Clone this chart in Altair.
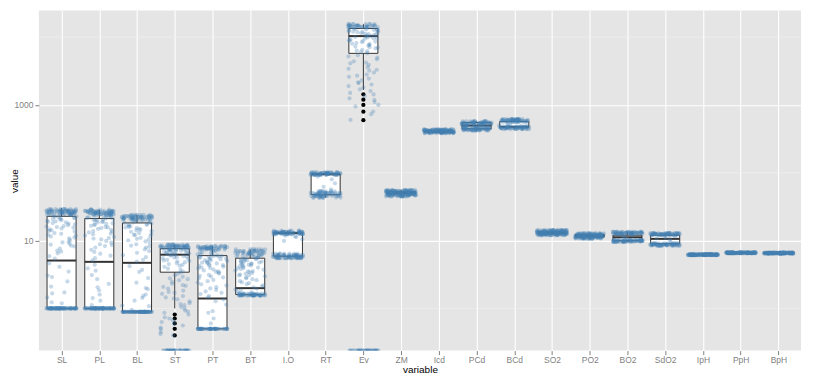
import altair as alt
import pandas as pd

categories = ["SL", "PL", "BL", "ST", "PT", "BT", "I.O", "RT", "Ev", "ZM", "Icd",
              "PCd", "BCd", "SO2", "PO2", "BO2", "SdO2", "IpH", "PpH", "BpH"]

# box statistics
box_q1 = [1.0, 1.0, 0.89, 3.42, 0.50, 1.60, 5.9, 47.5, 5760, 49.0, 400, 445, 470,
          12.6, 11.3, 10.0, 9.0, 6.17, 6.57, 6.52]
box_median = [5.08, 4.86, 4.70, 6.2, 1.40, 1.99, 12.9, 95, 10350, 51.0, 410, 496, 475,
              13.1, 11.8, 11.2, 10.6, 6.2, 6.6, 6.55]
box_q3 = [22.8, 21.1, 18.2, 7.6, 6.0, 5.5, 13.0, 95, 13400, 52.5, 420, 550, 570,
          13.6, 12.3, 12.0, 12.0, 6.23, 6.63, 6.58]
whisker_lo = [1.0, 1.0, 0.89, 1.0, 0.50, 1.55, 5.5, 43, 1660, 46, 385, 420, 440,
              12.0, 10.7, 9.6, 8.4, 6.12, 6.52, 6.47]
whisker_hi = [30.0, 28.5, 23.9, 8.7, 8.3, 7.4, 14.0, 102, 15500, 56, 435, 570, 620,
              14.3, 12.9, 13.4, 12.9, 6.28, 6.68, 6.63]

outlier_var = ["ST"] * 5 + ["Ev"] * 5
outlier_value = [0.81, 0.71, 0.60, 0.50, 0.40, 1436, 1197, 1000, 796, 596]

# jittered observations (0 = plotted at the bottom edge, as log10(0) = -Inf)
SL_values = ([1.0] * 70
             + [1.19, 1.23, 1.45, 1.66, 1.72, 2.1, 2.5, 2.9, 3.05, 3.5, 4.1, 4.6]
             + [5.4, 5.9, 6.5, 6.9, 7.1, 7.6, 8.2, 8.4, 8.7, 9.4, 9.6, 10.2, 10.8, 11.1,
                11.5, 12.1, 12.6, 12.9, 13.6, 13.9, 14.2, 15.1, 15.5, 15.8, 16.4, 16.9,
                17.3, 18.1, 18.6, 18.9, 19.6, 20.1, 20.5, 21.3, 21.8, 22.1, 22.8, 23.2,
                9.0, 11.8, 14.6, 16.1, 17.8, 19.2, 20.8, 21.6, 22.4]
             + [24.0] * 8 + [25.0] * 12 + [26.0] * 14 + [27.0] * 15 + [28.0] * 13 + [29.0] * 9)
PL_values = ([1.0] * 70
             + [1.12, 1.3, 1.42, 1.6, 1.85, 2.05, 2.3, 2.7, 3.1, 3.6, 3.9, 4.4]
             + [5.1, 5.5, 6.0, 6.4, 6.8, 7.3, 7.9, 8.3, 8.8, 9.3, 9.9, 10.4, 10.7, 11.3,
                11.9, 12.4, 12.7, 13.2, 13.8, 14.4, 14.9, 15.3, 15.9, 16.5, 17.0, 17.6,
                18.0, 18.5, 19.1, 19.7, 20.2, 20.6, 21.0, 21.6, 22.1, 22.7,
                8.6, 10.9, 13.5, 15.6, 17.3, 18.8, 19.9, 21.3]
             + [23.5] * 8 + [24.5] * 12 + [25.5] * 15 + [26.5] * 15 + [27.5] * 12 + [28.5] * 6)
BL_values = ([0.89] * 70
             + [0.95, 1.08, 1.1, 1.3, 1.43, 1.53, 1.6, 1.92, 2.0, 2.4, 2.8, 3.45, 3.7, 4.2]
             + [4.9, 5.2, 5.7, 6.1, 6.6, 7.0, 7.4, 7.9, 8.4, 8.8, 9.1, 9.7, 10.1, 10.6,
                11.0, 11.6, 12.0, 12.5, 12.9, 13.5, 13.9, 14.4, 14.9, 15.3, 15.8, 16.2,
                16.7, 17.1, 17.5, 17.9, 18.5, 19.0, 19.4, 19.8,
                8.1, 10.3, 12.2, 14.1, 15.6, 16.9, 18.2, 19.2]
             + [20.3] * 9 + [21.2] * 13 + [22.1] * 15 + [23.0] * 13 + [23.9] * 7)
ST_values = ([0] * 40
             + [0.40, 0.42, 0.50, 0.52, 0.60, 0.63, 0.71, 0.74, 0.81, 0.86, 0.93, 1.0,
                1.05, 1.12, 1.2, 1.27, 1.36, 1.45, 1.52, 1.64, 1.75, 1.83, 1.96, 2.08,
                2.2, 2.31, 2.48, 2.6, 2.78, 2.92, 3.08, 3.25, 3.38,
                0.45, 0.56, 0.67, 0.9, 1.16, 1.4, 1.7, 2.15, 2.7]
             + [3.5, 3.72, 3.86, 4.1, 4.27, 4.5, 4.62, 4.8, 4.94, 5.08, 5.2, 5.38, 5.5,
                5.62, 5.78, 5.9, 6.02, 6.1, 6.27, 6.4, 6.48, 6.6, 6.68, 6.8, 6.9, 6.98,
                7.05, 7.15, 7.22, 7.3, 7.36, 7.42, 7.5, 7.55, 7.62,
                4.4, 5.0, 5.7, 6.2, 6.55, 6.85, 7.1, 7.33, 7.48]
             + [7.8] * 12 + [8.1] * 15 + [8.4] * 15 + [8.7] * 9)
PT_values = ([0.5] * 50
             + [0.6, 0.71, 0.86, 0.91, 1.14, 1.28, 1.36]
             + [1.45, 1.52, 1.63, 1.7, 1.78, 1.87, 1.97, 2.06, 2.18, 2.27, 2.41, 2.52,
                2.63, 2.77, 2.86, 3.02, 3.12, 3.26, 3.37, 3.52, 3.63, 3.74, 3.88, 4.01,
                4.12, 4.23, 4.36, 4.47, 4.6, 4.72, 4.81, 4.96, 5.07, 5.16, 5.31, 5.42,
                5.52, 5.61, 5.72, 5.83, 5.92, 6.04, 6.15, 6.32, 6.51, 6.72, 6.93, 7.12,
                2.95, 3.45, 3.95, 4.3, 4.65, 5.0, 5.35, 5.65, 5.95, 6.25, 6.6, 7.0]
             + [7.4] * 10 + [7.7] * 14 + [8.0] * 14 + [8.3] * 9)
BT_values = ([1.55] * 25 + [1.6] * 20 + [1.65] * 12
             + [1.72, 1.78, 1.84, 1.9, 1.96]
             + [2.04, 2.12, 2.19, 2.28, 2.36, 2.43, 2.52, 2.61, 2.7, 2.78, 2.86, 2.97,
                3.06, 3.15, 3.24, 3.33, 3.43, 3.52, 3.61, 3.72, 3.81, 3.9, 4.0, 4.1,
                4.18, 4.28, 4.37, 4.46, 4.55, 4.64, 4.74, 4.83, 4.92, 5.02, 5.1, 5.2,
                5.3, 5.38, 5.47, 5.56, 5.66, 5.76, 5.87, 5.98,
                3.1, 3.55, 3.95, 4.3, 4.6, 4.9, 5.25, 5.5, 5.8, 6.05]
             + [6.2] * 9 + [6.6] * 14 + [7.0] * 14 + [7.4] * 8)
IO_values = ([5.5] * 20 + [5.8] * 26 + [6.1] * 20 + [6.4] * 8
             + [9.9, 10.5, 11.2, 11.6, 11.8, 12.2]
             + [12.5] * 20 + [13.0] * 26 + [13.5] * 20 + [14.0] * 6)
RT_values = ([43] * 10 + [45.5] * 16 + [48] * 18 + [50.5] * 16 + [53] * 10
             + [57, 62, 70, 80, 88]
             + [93] * 16 + [96] * 20 + [99] * 20 + [102] * 8)
Ev_values = ([0] * 40
             + [600, 730, 800, 950, 1000, 1100, 1190, 1250, 1350, 1430, 1500, 1600,
                1700, 1800, 1900, 2000, 2150, 2300, 2450, 2600, 2800, 3000, 3200, 3400,
                3600, 3900, 4100, 4400, 4700, 5000, 5400, 2100, 2700, 3300, 4200, 5200]
             + [5800, 6050, 6300, 6500, 6800, 7000, 7250, 7500, 7700, 7900, 8150, 8400,
                8600, 8800, 9000, 9250, 9500, 9700, 9900, 10100, 10300, 10500, 10750,
                11000, 11200, 11400, 11600, 11800, 12000, 12200, 12400, 12600, 12800,
                13000, 13200, 13400, 13600, 6200, 7100, 8000, 8900, 9600, 10400, 11100,
                11900, 12500, 13100]
             + [14000] * 14 + [14800] * 14 + [15500] * 8)
ZM_values = ([45] * 14 + [46.5] * 20 + [48] * 22 + [49.5] * 24 + [51] * 24 + [52.5] * 22
             + [54] * 20 + [55.5] * 12)
Icd_values = [385] * 16 + [395] * 26 + [405] * 30 + [415] * 30 + [425] * 26 + [435] * 14
PCd_values = ([420] * 14 + [435] * 20 + [450] * 20 + [465] * 12
              + [480, 490, 500, 520]
              + [510] * 14 + [530] * 20 + [550] * 20 + [570] * 12)
BCd_values = ([440] * 12 + [455] * 20 + [470] * 20 + [485] * 10
              + [500, 520, 540]
              + [560] * 14 + [580] * 20 + [600] * 20 + [620] * 12)
SO2_values = ([12.0] * 18 + [12.4] * 26 + [12.8] * 28 + [13.2] * 28 + [13.6] * 26
              + [14.0] * 20 + [14.3] * 12)
PO2_values = ([10.7] * 16 + [11.1] * 24 + [11.5] * 28 + [11.9] * 28 + [12.3] * 24
              + [12.8] * 16)
BO2_values = ([9.6] * 20 + [9.9] * 28 + [10.2] * 22
              + [10.8, 11.2, 11.6, 12.0]
              + [12.6] * 22 + [13.0] * 28 + [13.4] * 16)
SdO2_values = ([8.4] * 16 + [8.7] * 28 + [9.0] * 22
               + [9.8, 10.4, 10.8, 11.0, 11.3, 11.5]
               + [12.1] * 20 + [12.5] * 28 + [12.9] * 18)
IpH_values = [6.12] * 40 + [6.2] * 60 + [6.28] * 40
PpH_values = [6.52] * 40 + [6.6] * 60 + [6.68] * 40
BpH_values = [6.47] * 40 + [6.55] * 60 + [6.63] * 40

point_lists = [SL_values, PL_values, BL_values, ST_values, PT_values, BT_values,
               IO_values, RT_values, Ev_values, ZM_values, Icd_values, PCd_values,
               BCd_values, SO2_values, PO2_values, BO2_values, SdO2_values,
               IpH_values, PpH_values, BpH_values]

minor_breaks = [1, 100, 10000]
major_breaks = [10, 1000]

# ---- tables -----------------------------------------------------------------
rows = []
for i, (cat, vals) in enumerate(zip(categories, point_lists)):
    for v in vals:
        rows.append({"variable": cat, "idx": i, "value": v})
points_df = pd.DataFrame(rows)
points_df["row"] = range(1, len(points_df) + 1)

box_df = pd.DataFrame({"variable": categories, "idx": list(range(len(categories))),
                       "q1": box_q1, "median": box_median, "q3": box_q3,
                       "wlo": whisker_lo, "whi": whisker_hi})
out_df = pd.DataFrame({"variable": outlier_var, "value": outlier_value})
out_df["idx"] = [categories.index(v) for v in outlier_var]
minor_df = pd.DataFrame({"y": minor_breaks})

Y_MIN, Y_MAX = 0.2388, 24700
n = len(categories)
x_scale = alt.Scale(domain=[-0.6, n - 1 + 0.6], nice=False, zero=False)
y_scale = alt.Scale(type="log", domain=[Y_MIN, Y_MAX], nice=False, zero=False)

FONT = "Liberation Sans"
label_expr = "[" + ",".join(f"'{c}'" for c in categories) + "][datum.value]"
x_axis = alt.Axis(values=list(range(n)), labelExpr=label_expr, title="variable",
                  grid=True, gridColor="white", gridWidth=1.1, domain=False,
                  tickColor="#7F7F7F", tickSize=4, labelColor="#7F7F7F",
                  labelFontSize=8.5, labelPadding=1, labelFlush=False,
                  titlePadding=0, titleFontSize=10, titleFontWeight="normal",
                  titleColor="black", labelFont=FONT, titleFont=FONT)
y_axis = alt.Axis(values=major_breaks, format="d", title="value",
                  grid=True, gridColor="white", gridWidth=1.1, domain=False,
                  tickColor="#7F7F7F", tickSize=4, labelColor="#7F7F7F",
                  labelFontSize=8.5, labelPadding=2,
                  titleX=-21, titleY=170.5, titleAngle=270, titleBaseline="alphabetic",
                  titleAlign="center",
                  titleFontSize=10, titleFontWeight="normal", titleColor="black",
                  labelFont=FONT, titleFont=FONT)

BOX_HALF = 0.385
JIT = 0.8

minor = alt.Chart(minor_df).mark_rule(color="#F2F2F2", strokeWidth=0.6).encode(
    y=alt.Y("y:Q", scale=y_scale, axis=y_axis))

base_box = alt.Chart(box_df).transform_calculate(
    lo=f"datum.idx - {BOX_HALF}", hi=f"datum.idx + {BOX_HALF}")

whisk_up = base_box.mark_rule(color="#333333", strokeWidth=1).encode(
    x=alt.X("idx:Q", scale=x_scale, axis=x_axis),
    y=alt.Y("q3:Q", scale=y_scale, axis=y_axis), y2="whi:Q")
whisk_dn = base_box.mark_rule(color="#333333", strokeWidth=1).encode(
    x=alt.X("idx:Q", scale=x_scale, axis=x_axis),
    y=alt.Y("q1:Q", scale=y_scale, axis=y_axis), y2="wlo:Q")
boxes = base_box.mark_rect(fill="white", stroke="#333333", strokeWidth=1).encode(
    x=alt.X("lo:Q", scale=x_scale, axis=x_axis), x2="hi:Q",
    y=alt.Y("q1:Q", scale=y_scale, axis=y_axis), y2="q3:Q")
medians = base_box.mark_rule(color="#333333", strokeWidth=2).encode(
    x=alt.X("lo:Q", scale=x_scale, axis=x_axis), x2="hi:Q",
    y=alt.Y("median:Q", scale=y_scale, axis=y_axis))
outliers = alt.Chart(out_df).mark_circle(color="black", size=18, opacity=1).encode(
    x=alt.X("idx:Q", scale=x_scale, axis=x_axis),
    y=alt.Y("value:Q", scale=y_scale, axis=y_axis))

hash_expr = "(sin(datum.row * 12.9898) * 43758.5453)"
points = alt.Chart(points_df).transform_calculate(
    jx=f"datum.idx + {JIT} * ({hash_expr} - floor({hash_expr}) - 0.5)",
    yv=f"datum.value > 0 ? datum.value : {Y_MIN}",
).mark_circle(color="#4682B4", opacity=0.3, size=18, clip=True).encode(
    x=alt.X("jx:Q", scale=x_scale, axis=x_axis),
    y=alt.Y("yv:Q", scale=y_scale, axis=y_axis))

chart = alt.layer(minor, whisk_up, whisk_dn, boxes, medians, outliers, points).properties(
    width=764, height=341,
    padding={"left": 31, "top": 2, "right": 5, "bottom": 27},
    autosize=alt.AutoSizeParams(type="none"),
    background="white",
).configure_view(fill="#E5E5E5", stroke=None)

chart.save("out.html", embed_options={"renderer": "svg", "actions": False})
